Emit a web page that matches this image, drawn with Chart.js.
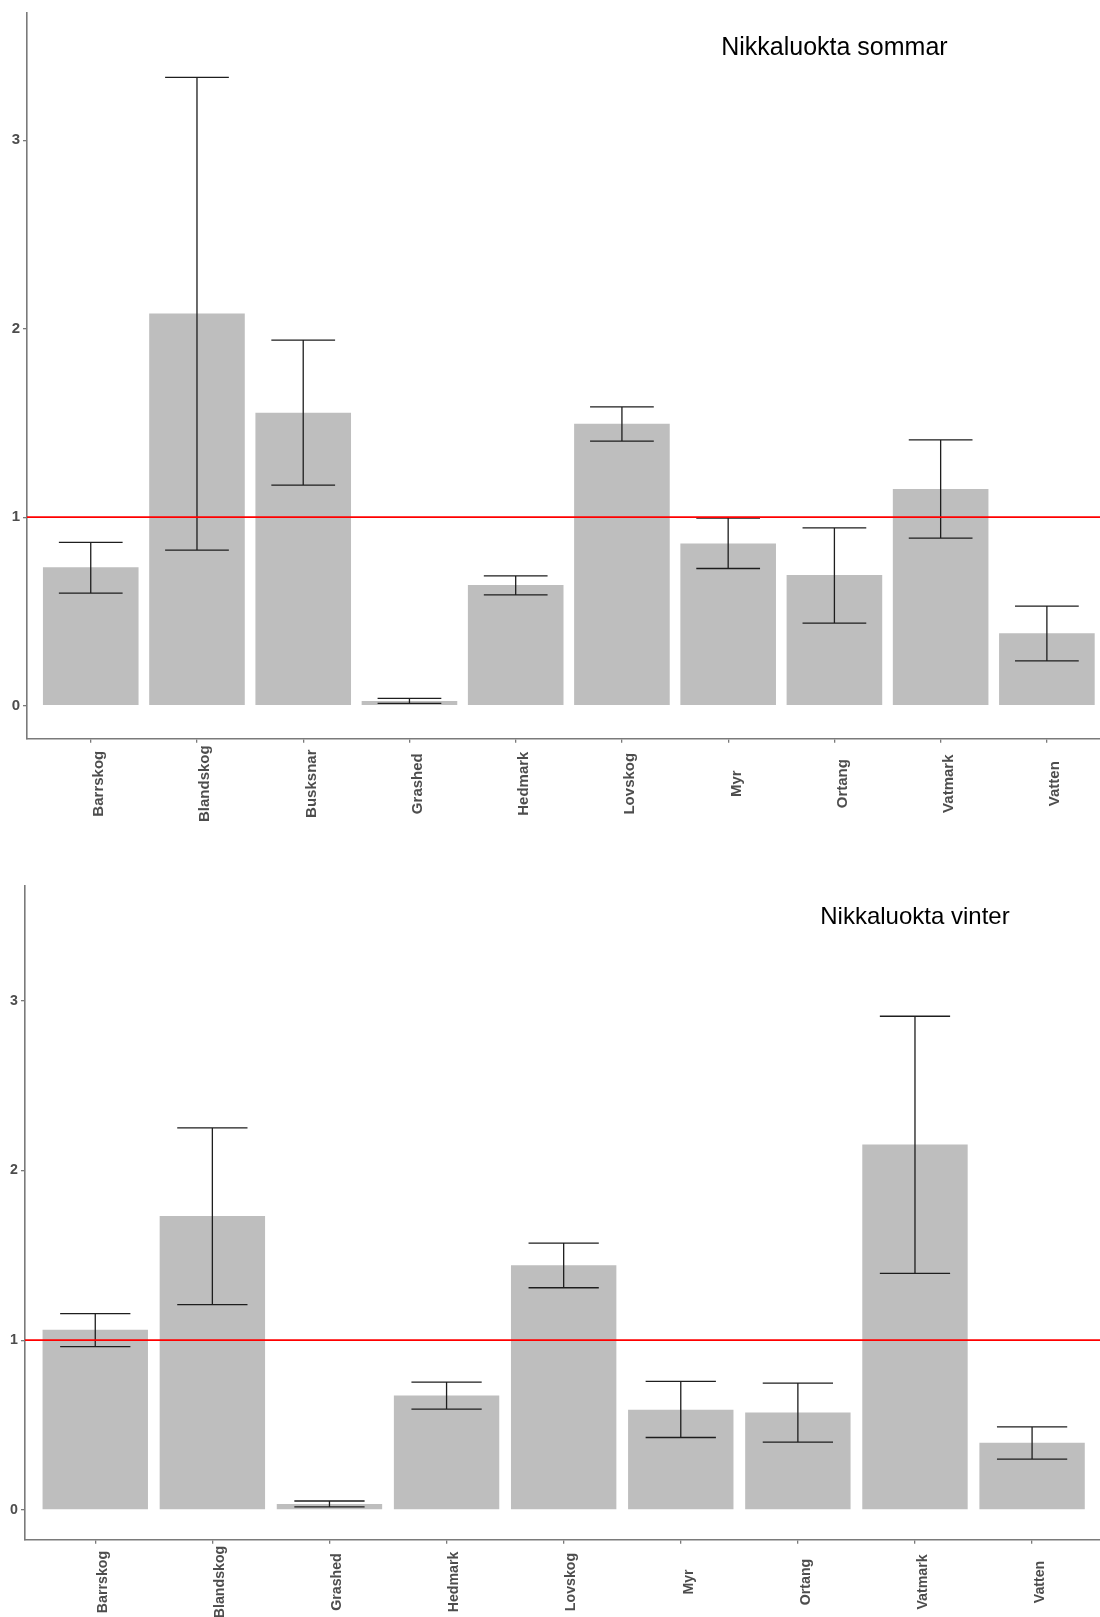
<!DOCTYPE html>
<html>
<head>
<meta charset="utf-8">
<title>Nikkaluokta</title>
<script src="https://cdn.jsdelivr.net/npm/chart.js@4.4.1/dist/chart.umd.min.js"></script>
<style>
  html, body { margin: 0; padding: 0; background: #ffffff; overflow: hidden; }
  #wrap { position: relative; width: 1100px; height: 1617px; }
  canvas { position: absolute; left: 0; display: block; }
  #summer { top: 0; }
  #winter { top: 845px; }
</style>
</head>
<body>
<div id="wrap">
  <canvas id="summer" width="1100" height="845"></canvas>
  <canvas id="winter" width="1100" height="772"></canvas>
</div>
<script>
// Summer habitat selection: mean ratio with lower / upper interval
const summerCategories = ['Barrskog', 'Blandskog', 'Busksnar', 'Grashed', 'Hedmark', 'Lovskog', 'Myr', 'Ortang', 'Vatmark', 'Vatten'];
const summerMean  = [0.735, 2.081, 1.554, 0.025, 0.640, 1.496, 0.860, 0.694, 1.150, 0.385];
const summerUpper = [0.867, 3.333, 1.940, 0.039, 0.689, 1.585, 0.995, 0.943, 1.410, 0.528];
const summerLower = [0.597, 0.825, 1.170, 0.012, 0.588, 1.404, 0.728, 0.438, 0.889, 0.238];

// Winter habitat selection
const winterCategories = ['Barrskog', 'Blandskog', 'Grashed', 'Hedmark', 'Lovskog', 'Myr', 'Ortang', 'Vatmark', 'Vatten'];
const winterMean  = [1.062, 1.731, 0.035, 0.674, 1.441, 0.590, 0.574, 2.153, 0.396];
const winterUpper = [1.157, 2.251, 0.053, 0.753, 1.572, 0.757, 0.747, 2.908, 0.490];
const winterLower = [0.962, 1.209, 0.018, 0.594, 1.309, 0.427, 0.400, 1.394, 0.300];

const yTickValues = [0, 1, 2, 3];
const referenceValue = 1;
const summerTitle = 'Nikkaluokta sommar';
const winterTitle = 'Nikkaluokta vinter';
const titlePosition = [7, 3.5];   // category index, y value

const FONT = '"Liberation Sans", Arial, Helvetica, sans-serif';
const AXIS_GREY = '#7a7a7a';
const TEXT_GREY = '#4d4d4d';

// Error bars, the reference line, rotated category labels and the panel title
const overlayPlugin = {
  id: 'overlay',
  afterDatasetsDraw(chart, args, o) {
    const { ctx, chartArea } = chart;
    const x = chart.scales.x, y = chart.scales.y;
    const unit = Math.abs(x.getPixelForValue(1) - x.getPixelForValue(0));
    const hw = unit * o.capWidth / 2;
    ctx.save();
    ctx.strokeStyle = '#1e1e1e';
    ctx.lineWidth = 1.3;
    o.lower.forEach((lo, i) => {
      const cx = x.getPixelForValue(i);
      const yl = y.getPixelForValue(lo);
      const yh = y.getPixelForValue(o.upper[i]);
      ctx.beginPath();
      ctx.moveTo(cx, yh); ctx.lineTo(cx, yl);
      ctx.moveTo(cx - hw, yh); ctx.lineTo(cx + hw, yh);
      ctx.moveTo(cx - hw, yl); ctx.lineTo(cx + hw, yl);
      ctx.stroke();
    });
    const ry = y.getPixelForValue(o.reference);
    ctx.strokeStyle = '#ff0000';
    ctx.lineWidth = 1.7;
    ctx.beginPath();
    ctx.moveTo(chartArea.left, ry);
    ctx.lineTo(chartArea.right, ry);
    ctx.stroke();
    ctx.restore();
  },
  afterDraw(chart, args, o) {
    const { ctx, chartArea } = chart;
    const x = chart.scales.x, y = chart.scales.y;
    ctx.save();
    ctx.fillStyle = TEXT_GREY;
    ctx.font = 'bold ' + o.labelSize + 'px ' + FONT;
    ctx.textAlign = 'center';
    ctx.textBaseline = 'alphabetic';
    o.categories.forEach((name, i) => {
      const cx = x.getPixelForValue(i);
      ctx.save();
      ctx.translate(cx + o.labelShift, chartArea.bottom + o.labelOffset);
      ctx.rotate(-Math.PI / 2);
      ctx.fillText(name, 0, 0);
      ctx.restore();
    });
    ctx.fillStyle = '#000000';
    ctx.font = o.titleSize + 'px ' + FONT;
    ctx.textAlign = 'center';
    const tx = x.getPixelForValue(o.titleAt[0]);
    const ty = y.getPixelForValue(o.titleAt[1]) + 0.358 * o.titleSize;
    ctx.fillText(o.title, tx, ty);
    ctx.restore();
  }
};

function panel(canvasId, p) {
  const canvas = document.getElementById(canvasId);
  return new Chart(canvas, {
    type: 'bar',
    data: {
      datasets: [{
        data: p.mean.map((v, i) => ({ x: i, y: v })),
        backgroundColor: '#bebebe',
        borderWidth: 0,
        barPercentage: 0.9,
        categoryPercentage: 1.0
      }]
    },
    options: {
      responsive: false,
      animation: false,
      devicePixelRatio: 1,
      layout: { padding: { top: p.padTop, left: 0, right: 0, bottom: 0 } },
      plugins: {
        legend: { display: false },
        tooltip: { enabled: false },
        overlay: {
          categories: p.categories,
          upper: p.upper,
          lower: p.lower,
          reference: referenceValue,
          capWidth: 0.6,
          labelSize: p.labelSize,
          labelShift: p.labelShift,
          labelOffset: p.labelOffset,
          title: p.title,
          titleSize: p.titleSize,
          titleAt: titlePosition
        }
      },
      scales: {
        x: {
          type: 'linear',
          offset: false,
          min: -0.6,
          max: p.xMax,
          afterBuildTicks: s => { s.ticks = p.categories.map((c, i) => ({ value: i })); },
          afterFit: s => { s.height = p.xAxisHeight; },
          ticks: { display: false },
          grid: { offset: false, drawOnChartArea: false, drawTicks: true, tickLength: 4, color: AXIS_GREY, lineWidth: 1.3 },
          border: { display: true, color: AXIS_GREY, width: 1.6 }
        },
        y: {
          type: 'linear',
          min: -0.175,
          max: 3.675,
          afterBuildTicks: s => { s.ticks = yTickValues.map(v => ({ value: v })); },
          afterFit: s => { s.width = p.yAxisWidth; },
          ticks: {
            color: TEXT_GREY,
            padding: 3,
            font: { family: FONT, size: p.labelSize, weight: 'bold' },
            callback: v => String(v)
          },
          grid: { drawOnChartArea: false, drawTicks: true, tickLength: 4, color: AXIS_GREY, lineWidth: 1.3 },
          border: { display: true, color: AXIS_GREY, width: 1.6 }
        }
      }
    },
    plugins: [overlayPlugin]
  });
}

panel('summer', {
  categories: summerCategories, mean: summerMean, upper: summerUpper, lower: summerLower,
  title: summerTitle, titleSize: 25, labelSize: 15, labelShift: 12.5, labelOffset: 45,
  xMax: 9.5, padTop: 13, xAxisHeight: 106.3, yAxisWidth: 27
});

panel('winter', {
  categories: winterCategories, mean: winterMean, upper: winterUpper, lower: winterLower,
  title: winterTitle, titleSize: 24, labelSize: 14.2, labelShift: 11.8, labelOffset: 42.3,
  xMax: 8.58, padTop: 41, xAxisHeight: 77.3, yAxisWidth: 25
});
</script>
</body>
</html>
